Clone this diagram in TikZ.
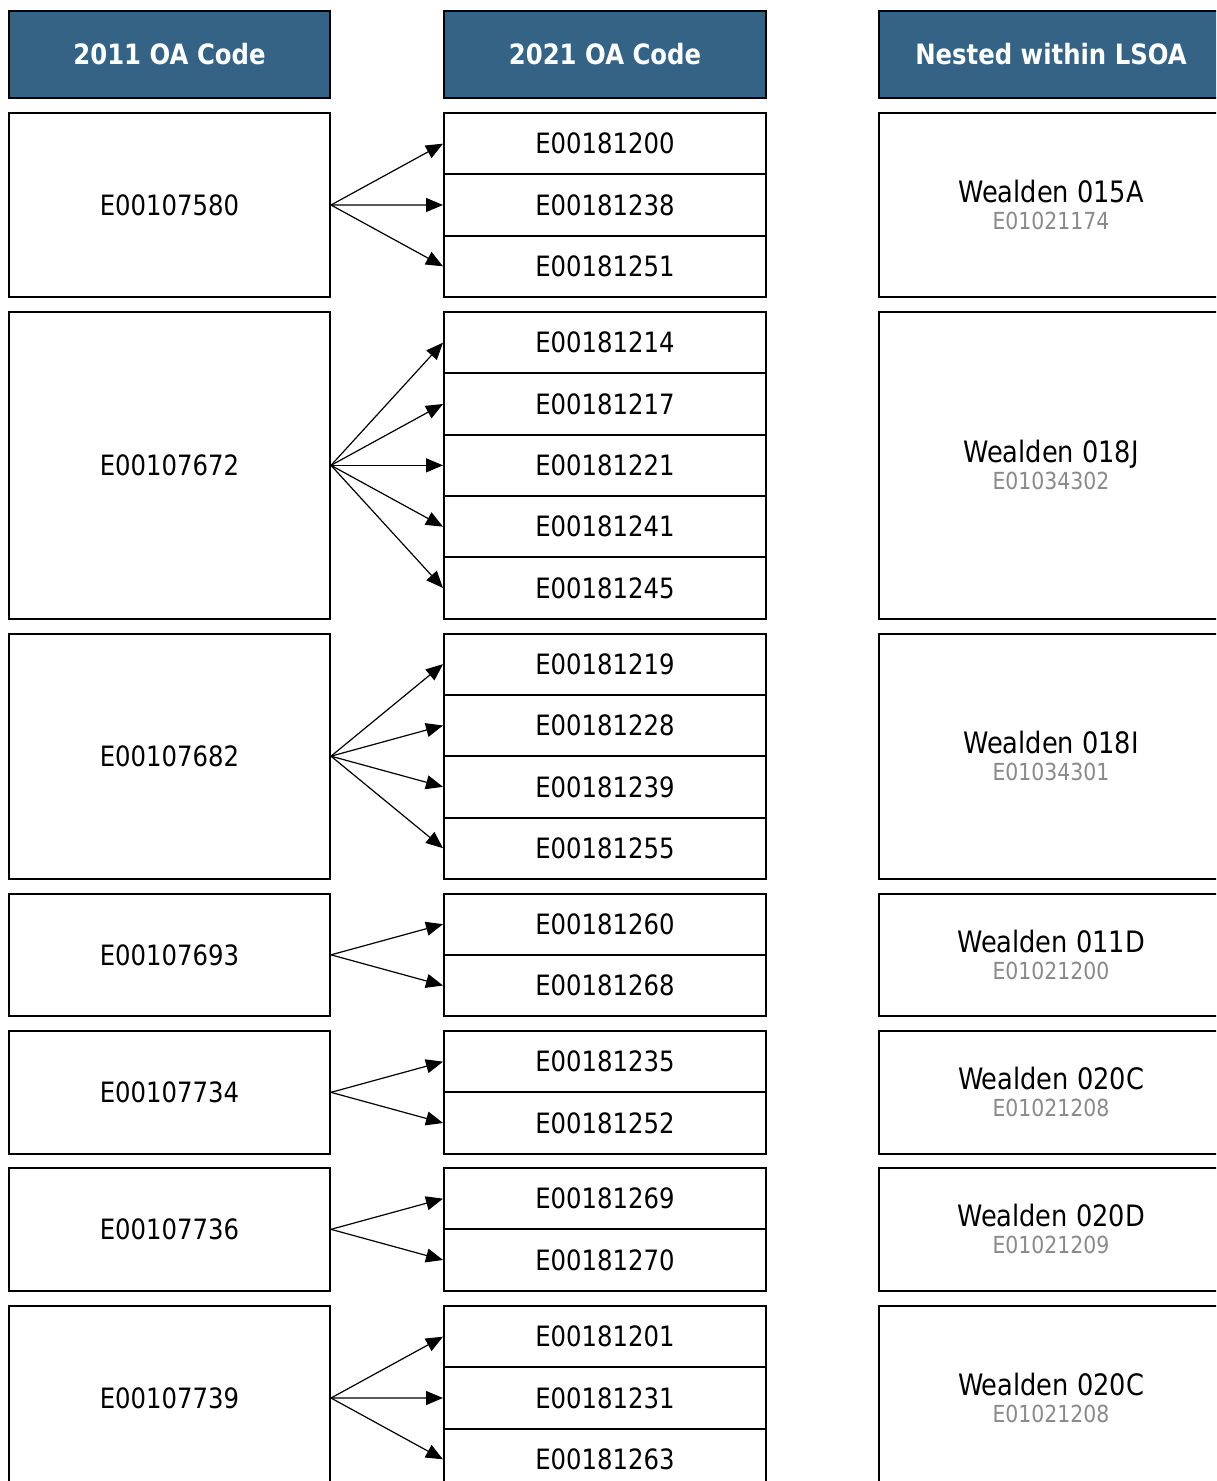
\documentclass[tikz,border=0pt]{standalone}
\usepackage{fontspec}
\setmainfont[FakeStretch=0.87]{DejaVu Sans}
\usetikzlibrary{arrows.meta}
\definecolor{hdr}{HTML}{346386}
\definecolor{subgray}{HTML}{8A8A8A}
\tikzset{
  hdrbox/.style={draw=black, line width=2pt, fill=hdr, text=white, anchor=north west, inner sep=0pt, minimum height=87pt, font=\fontsize{28}{32}\selectfont\bfseries},
  leftbox/.style={draw=black, line width=2pt, anchor=north west, inner sep=0pt, minimum width=321pt, font=\fontsize{28}{32}\selectfont},
  midbox/.style={draw=black, line width=2pt, anchor=north west, inner sep=0pt, minimum width=322pt, minimum height=61.33pt, font=\fontsize{28}{32}\selectfont},
  rightbox/.style={draw=black, line width=2pt, anchor=north west, inner sep=0pt, minimum width=344pt},
  lsoa/.style={align=center, inner sep=0pt, font=\fontsize{29.5}{30}\selectfont},
  arr/.style={line width=1.2pt, -{Triangle[length=17pt,width=14pt]}}
}
\newcommand{\lsoatext}[2]{#1\\[-3pt]{\fontsize{23.5}{26}\selectfont\color{subgray}#2}}
\begin{document}
\begin{tikzpicture}[x=1pt,y=-1pt]
\useasboundingbox (0,0) rectangle (1216,1481);
\clip (0,0) rectangle (1216,1481);
\fill[white] (0,0) rectangle (1216,1481);
% headers
\node[hdrbox, minimum width=321pt] (h1) at (8,10) {2011 OA Code};
\node[hdrbox, minimum width=322pt] (h2) at (443,10) {2021 OA Code};
\node[hdrbox, minimum width=344pt] (h3) at (878,10) {Nested within LSOA};
% left column
\node[leftbox, minimum height=184pt] (a1) at (8,112) {E00107580};
\node[leftbox, minimum height=306.67pt] (a2) at (8,311) {E00107672};
\node[leftbox, minimum height=245.33pt] (a3) at (8,632.5) {E00107682};
\node[leftbox, minimum height=122.67pt] (a4) at (8,892.5) {E00107693};
\node[leftbox, minimum height=122.67pt] (a5) at (8,1030) {E00107734};
\node[leftbox, minimum height=122.67pt] (a6) at (8,1167) {E00107736};
\node[leftbox, minimum height=184pt] (a7) at (8,1305) {E00107739};
% middle column
\node[midbox] (b11) at (443,112) {E00181200};
\node[midbox] (b12) at (443,173.33) {E00181238};
\node[midbox] (b13) at (443,234.67) {E00181251};
\node[midbox] (b21) at (443,311) {E00181214};
\node[midbox] (b22) at (443,372.33) {E00181217};
\node[midbox] (b23) at (443,433.67) {E00181221};
\node[midbox] (b24) at (443,495) {E00181241};
\node[midbox] (b25) at (443,556.33) {E00181245};
\node[midbox] (b31) at (443,632.5) {E00181219};
\node[midbox] (b32) at (443,693.83) {E00181228};
\node[midbox] (b33) at (443,755.17) {E00181239};
\node[midbox] (b34) at (443,816.5) {E00181255};
\node[midbox] (b41) at (443,892.5) {E00181260};
\node[midbox] (b42) at (443,953.83) {E00181268};
\node[midbox] (b51) at (443,1030) {E00181235};
\node[midbox] (b52) at (443,1091.33) {E00181252};
\node[midbox] (b61) at (443,1167) {E00181269};
\node[midbox] (b62) at (443,1228.33) {E00181270};
\node[midbox] (b71) at (443,1305) {E00181201};
\node[midbox] (b72) at (443,1366.33) {E00181231};
\node[midbox] (b73) at (443,1427.67) {E00181263};
% right column
\node[rightbox, minimum height=184pt] (c1) at (878,112) {};
\node[rightbox, minimum height=306.67pt] (c2) at (878,311) {};
\node[rightbox, minimum height=245.33pt] (c3) at (878,632.5) {};
\node[rightbox, minimum height=122.67pt] (c4) at (878,892.5) {};
\node[rightbox, minimum height=122.67pt] (c5) at (878,1030) {};
\node[rightbox, minimum height=122.67pt] (c6) at (878,1167) {};
\node[rightbox, minimum height=184pt] (c7) at (878,1305) {};
\node[lsoa] (t1) at (c1.center) {\lsoatext{Wealden 015A}{E01021174}};
\node[lsoa] (t2) at (c2.center) {\lsoatext{Wealden 018J}{E01034302}};
\node[lsoa] (t3) at (c3.center) {\lsoatext{Wealden 018I}{E01034301}};
\node[lsoa] (t4) at (c4.center) {\lsoatext{Wealden 011D}{E01021200}};
\node[lsoa] (t5) at (c5.center) {\lsoatext{Wealden 020C}{E01021208}};
\node[lsoa] (t6) at (c6.center) {\lsoatext{Wealden 020D}{E01021209}};
\node[lsoa] (t7) at (c7.center) {\lsoatext{Wealden 020C}{E01021208}};
% arrows
\foreach \t in {b11,b12,b13} \draw[arr] (a1.east) -- (\t.west);
\foreach \t in {b21,b22,b23,b24,b25} \draw[arr] (a2.east) -- (\t.west);
\foreach \t in {b31,b32,b33,b34} \draw[arr] (a3.east) -- (\t.west);
\foreach \t in {b41,b42} \draw[arr] (a4.east) -- (\t.west);
\foreach \t in {b51,b52} \draw[arr] (a5.east) -- (\t.west);
\foreach \t in {b61,b62} \draw[arr] (a6.east) -- (\t.west);
\foreach \t in {b71,b72,b73} \draw[arr] (a7.east) -- (\t.west);
\end{tikzpicture}
\end{document}
